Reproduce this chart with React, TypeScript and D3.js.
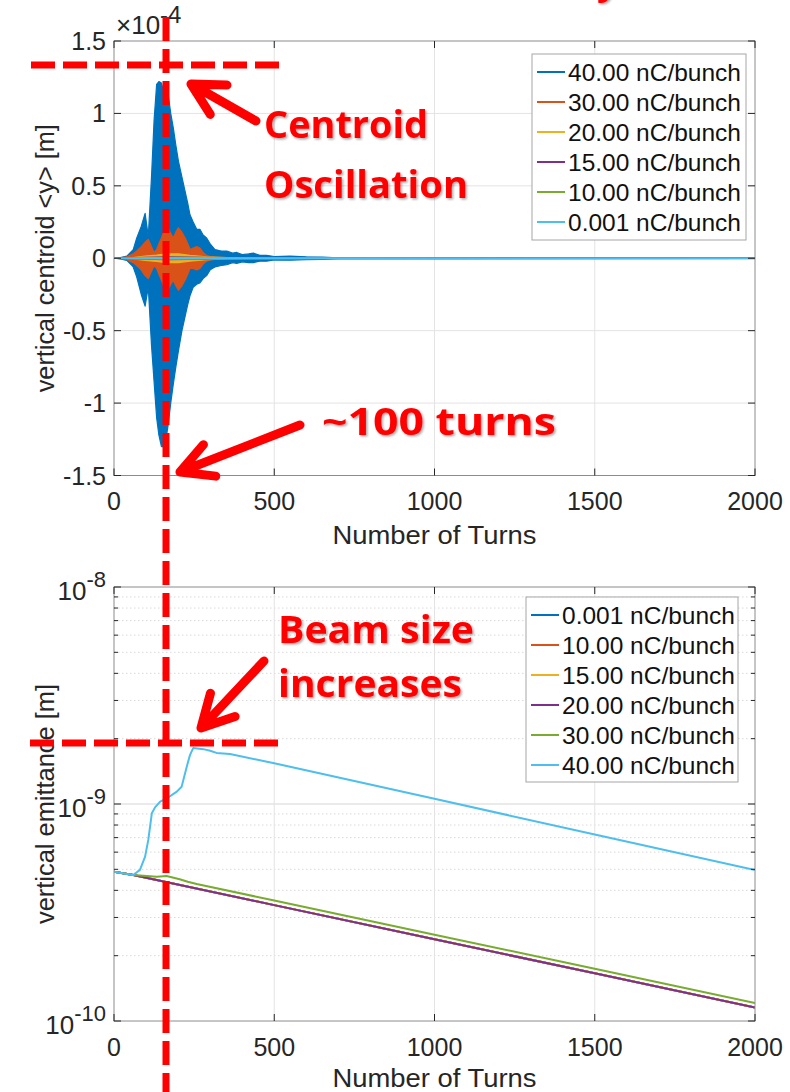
import React from 'react';
import * as d3 from 'd3';

const W = 790;
const H = 1092;

// ---------- axis ticks ----------
const turnTicks = [0, 500, 1000, 1500, 2000];
const centroidTicks = [-1.5, -1, -0.5, 0, 0.5, 1, 1.5];
const centroidTickLabels = ['-1.5', '-1', '-0.5', '0', '0.5', '1', '1.5'];
const emitDecades = [-10, -9, -8];

// ---------- top plot: centroid envelopes (units 1e-4 m) ----------
const centroidLegend = ['40.00 nC/bunch', '30.00 nC/bunch', '20.00 nC/bunch', '15.00 nC/bunch', '10.00 nC/bunch', '0.001 nC/bunch'];
const centroidColors = ['#0072BD', '#D95319', '#EDB120', '#7E2F8E', '#77AC30', '#4DBEEE'];

const envTurns = [0, 20, 40, 60, 71, 85, 97, 107, 117, 125, 133, 140, 148, 155, 162, 169, 177, 185, 193, 201, 212, 222, 230, 237, 247, 258, 268, 278, 289, 300, 315, 335, 352, 370, 383, 400, 420, 435, 455, 476, 500, 549, 600, 650, 700, 2000];
const env40Upper = [0, 0.005, 0.015, 0.06, 0.14, 0.22, 0.31, 0.15, 0.56, 0.95, 1.2, 1.22, 1.21, 1.15, 1.18, 1.13, 1.0, 0.9, 0.78, 0.67, 0.56, 0.46, 0.38, 0.3, 0.25, 0.2, 0.2, 0.16, 0.14, 0.1, 0.06, 0.05, 0.05, 0.035, 0.04, 0.025, 0.03, 0.035, 0.02, 0.02, 0.012, 0.015, 0.01, 0.008, 0.003, 0.002];
const env40Lower = [0, -0.005, -0.015, -0.06, -0.13, -0.25, -0.33, -0.2, -0.6, -0.85, -1.1, -1.22, -1.3, -1.3, -1.25, -1.15, -1.0, -0.87, -0.75, -0.64, -0.5, -0.4, -0.32, -0.26, -0.2, -0.18, -0.17, -0.14, -0.12, -0.08, -0.06, -0.05, -0.045, -0.03, -0.035, -0.025, -0.03, -0.03, -0.02, -0.02, -0.012, -0.013, -0.01, -0.008, -0.003, -0.002];
const env30Upper = [0, 0.002, 0.01, 0.03, 0.05, 0.08, 0.11, 0.13, 0.08, 0.04, 0.06, 0.1, 0.14, 0.18, 0.21, 0.21, 0.17, 0.14, 0.18, 0.21, 0.18, 0.14, 0.1, 0.06, 0.07, 0.08, 0.07, 0.04, 0.02, 0.012, 0.008, 0.006, 0.005, 0.004, 0.004, 0.003, 0.003, 0.003, 0.002, 0.002, 0.002, 0.002, 0.001, 0.001, 0.001, 0.001];
const env30Lower = [0, -0.002, -0.01, -0.03, -0.05, -0.08, -0.12, -0.14, -0.09, -0.05, -0.07, -0.11, -0.15, -0.19, -0.22, -0.22, -0.18, -0.15, -0.19, -0.22, -0.19, -0.15, -0.11, -0.07, -0.07, -0.08, -0.07, -0.04, -0.02, -0.012, -0.008, -0.006, -0.005, -0.004, -0.004, -0.003, -0.003, -0.003, -0.002, -0.002, -0.002, -0.002, -0.001, -0.001, -0.001, -0.001];
const env20Turns = [0, 60, 97, 133, 162, 201, 237, 289, 352, 500, 2000];
const env20Upper = [0, 0.005, 0.015, 0.022, 0.03, 0.03, 0.02, 0.01, 0.005, 0.002, 0.001];
const env20Lower = [0, -0.005, -0.015, -0.022, -0.03, -0.03, -0.02, -0.01, -0.005, -0.002, -0.001];
const envSmallTurns = [0, 97, 162, 237, 352, 2000];
const env15Upper = [0, 0.006, 0.01, 0.008, 0.003, 0.001];
const env15Lower = [0, -0.006, -0.01, -0.008, -0.003, -0.001];
const env10Upper = [0, 0.004, 0.007, 0.006, 0.002, 0.001];
const env10Lower = [0, -0.004, -0.007, -0.006, -0.002, -0.001];
const env001Upper = [0, 0.002, 0.003, 0.003, 0.002, 0.001];
const env001Lower = [0, -0.002, -0.003, -0.003, -0.002, -0.001];

// ---------- bottom plot: vertical emittance (m) ----------
const emitLegend = ['0.001 nC/bunch', '10.00 nC/bunch', '15.00 nC/bunch', '20.00 nC/bunch', '30.00 nC/bunch', '40.00 nC/bunch'];
const emitColors = ['#0072BD', '#D95319', '#EDB120', '#7E2F8E', '#77AC30', '#4DBEEE'];
const emitLowTurns = [0, 60, 500, 1000, 1500, 2000];
const emit001 = [4.88e-10, 4.71e-10, 3.42e-10, 2.38e-10, 1.66e-10, 1.153e-10];
const emit10 = [4.88e-10, 4.71e-10, 3.42e-10, 2.38e-10, 1.66e-10, 1.153e-10];
const emit15 = [4.88e-10, 4.71e-10, 3.42e-10, 2.38e-10, 1.66e-10, 1.153e-10];
const emit20 = [4.88e-10, 4.71e-10, 3.42e-10, 2.38e-10, 1.66e-10, 1.153e-10];
const emit30Turns = [0, 60, 133, 164, 180, 205, 230, 258, 500, 1000, 1500, 2000];
const emit30 = [4.88e-10, 4.71e-10, 4.62e-10, 4.66e-10, 4.6e-10, 4.5e-10, 4.38e-10, 4.28e-10, 3.59e-10, 2.5e-10, 1.74e-10, 1.21e-10];
const emit40Turns = [0, 40, 60, 81, 97, 107, 118, 128, 144, 164, 196, 211, 227, 237, 247, 279, 300, 320, 362, 500, 1000, 1500, 2000];
const emit40 = [4.88e-10, 4.76e-10, 4.71e-10, 4.97e-10, 5.72e-10, 6.83e-10, 9.06e-10, 9.65e-10, 1.025e-9, 1.06e-9, 1.14e-9, 1.2e-9, 1.486e-9, 1.68e-9, 1.81e-9, 1.79e-9, 1.76e-9, 1.72e-9, 1.7e-9, 1.54e-9, 1.057e-9, 7.23e-10, 4.96e-10];

// ---------- layout ----------
const PL = 114, PR = 755;
const T1 = 41, B1 = 475.5;
const T2 = 587, B2 = 1021;
const FONT = 'Liberation Sans, Arial, Helvetica, sans-serif';
const RED_FONT = '"Open Sans", "Noto Sans", sans-serif';
const AX = '#262626';
const BOX = '#8c8c8c';
const GRID = '#e3e3e3';

const xs = d3.scaleLinear().domain([0, 2000]).range([PL, PR]);
const y1 = d3.scaleLinear().domain([-1.5, 1.5]).range([B1, T1]);
const y2 = d3.scaleLog().domain([1e-10, 1e-8]).range([B2, T2]);

type Env = { t: number; hi: number; lo: number };
const zipEnv = (t: number[], hi: number[], lo: number[]): Env[] => t.map((v, i) => ({ t: v, hi: hi[i], lo: lo[i] }));

const topSeries = [
  zipEnv(envTurns, env40Upper, env40Lower),
  zipEnv(envTurns, env30Upper, env30Lower),
  zipEnv(env20Turns, env20Upper, env20Lower),
  zipEnv(envSmallTurns, env15Upper, env15Lower),
  zipEnv(envSmallTurns, env10Upper, env10Lower),
  zipEnv(envSmallTurns, env001Upper, env001Lower),
];

const bottomSeries: { t: number; v: number }[][] = [
  emitLowTurns.map((t, i) => ({ t, v: emit001[i] })),
  emitLowTurns.map((t, i) => ({ t, v: emit10[i] })),
  emitLowTurns.map((t, i) => ({ t, v: emit15[i] })),
  emitLowTurns.map((t, i) => ({ t, v: emit20[i] })),
  emit30Turns.map((t, i) => ({ t, v: emit30[i] })),
  emit40Turns.map((t, i) => ({ t, v: emit40[i] })),
];

const areaGen = d3.area<Env>().x((d) => xs(d.t)).y0((d) => y1(d.lo)).y1((d) => y1(d.hi));
const lineGen = d3.line<{ t: number; v: number }>().x((d) => xs(d.t)).y((d) => y2(d.v));

function arrow(tail: [number, number], tip: [number, number], len = 36, ang = (28 * Math.PI) / 180) {
  const a = Math.atan2(tail[1] - tip[1], tail[0] - tip[0]);
  const p1 = [tip[0] + len * Math.cos(a + ang), tip[1] + len * Math.sin(a + ang)];
  const p2 = [tip[0] + len * Math.cos(a - ang), tip[1] + len * Math.sin(a - ang)];
  return `M${tail[0]},${tail[1]}L${tip[0]},${tip[1]}M${p1[0]},${p1[1]}L${tip[0]},${tip[1]}L${p2[0]},${p2[1]}`;
}

function Legend({ x, y, w, h, labels, colors }: { x: number; y: number; w: number; h: number; labels: string[]; colors: string[] }) {
  return (
    <g>
      <rect x={x} y={y} width={w} height={h} fill="#fff" stroke="#a6a6a6" strokeWidth={1} />
      {labels.map((l, i) => {
        const cy = y + 18 + i * 30;
        return (
          <g key={l}>
            <line x1={x + 5} x2={x + 33} y1={cy} y2={cy} stroke={colors[i]} strokeWidth={2} />
            <text x={x + 36} y={cy + 8.5} fontSize={24} fontFamily={FONT} fill="#111" textLength={173} lengthAdjust="spacingAndGlyphs">{l}</text>
          </g>
        );
      })}
    </g>
  );
}

function XAxis({ top, bottom, labelY }: { top: number; bottom: number; labelY: number }) {
  return (
    <g>
      {turnTicks.map((t) => (
        <g key={t}>
          <line x1={xs(t)} x2={xs(t)} y1={bottom} y2={bottom - 7} stroke={AX} strokeWidth={1} />
          <line x1={xs(t)} x2={xs(t)} y1={top} y2={top + 7} stroke={AX} strokeWidth={1} />
          <text x={xs(t)} y={bottom + 34.5} fontSize={25} fontFamily={FONT} fill={AX} textAnchor="middle">{t}</text>
        </g>
      ))}
      <text x={(PL + PR) / 2} y={labelY} fontSize={25} fontFamily={FONT} fill={AX} textAnchor="middle" textLength={204} lengthAdjust="spacingAndGlyphs">Number of Turns</text>
    </g>
  );
}

export default function App() {
  const minorVals: number[] = [];
  [-10, -9].forEach((e) => {
    for (let k = 2; k <= 9; k++) minorVals.push(k * Math.pow(10, e));
  });
  return (
    <svg width={W} height={H} viewBox={`0 0 ${W} ${H}`} style={{ position: 'absolute', left: 0, top: 0, background: '#fff' }}>
      <defs>
        <clipPath id="clip1"><rect x={PL} y={T1} width={PR - PL} height={B1 - T1} /></clipPath>
        <clipPath id="clip2"><rect x={PL} y={T2} width={PR - PL} height={B2 - T2} /></clipPath>
        <filter id="shadow" x="-10%" y="-10%" width="130%" height="140%">
          <feDropShadow dx="1.5" dy="1.5" stdDeviation="1" floodColor="#000" floodOpacity="0.35" />
        </filter>
      </defs>
      <rect x={0} y={0} width={W} height={H} fill="#fff" />

      {/* ===== TOP PLOT ===== */}
      <g>
        {turnTicks.slice(1, -1).map((t) => (
          <line key={t} x1={xs(t)} x2={xs(t)} y1={T1} y2={B1} stroke={GRID} strokeWidth={1} />
        ))}
        {centroidTicks.slice(1, -1).map((v) => (
          <line key={v} x1={PL} x2={PR} y1={y1(v)} y2={y1(v)} stroke={GRID} strokeWidth={1} />
        ))}
        <g clipPath="url(#clip1)">
          {topSeries.map((s, i) => (
            <path key={i} d={areaGen(s) || ''} fill={centroidColors[i]} stroke={centroidColors[i]} strokeWidth={1.2} strokeLinejoin="round" />
          ))}
        </g>
        <rect x={PL} y={T1} width={PR - PL} height={B1 - T1} fill="none" stroke={BOX} strokeWidth={1} />
        {centroidTicks.map((v, i) => (
          <g key={v}>
            <line x1={PL} x2={PL + 7} y1={y1(v)} y2={y1(v)} stroke={AX} strokeWidth={1} />
            <line x1={PR} x2={PR - 7} y1={y1(v)} y2={y1(v)} stroke={AX} strokeWidth={1} />
            <text x={106} y={y1(v) + 9} fontSize={25} fontFamily={FONT} fill={AX} textAnchor="end">{centroidTickLabels[i]}</text>
          </g>
        ))}
        <XAxis top={T1} bottom={B1} labelY={544} />
        <text x={116} y={34} fontSize={26} fontFamily={FONT} fill={AX}>
          ×10<tspan fontSize={24} dy={-11}>-4</tspan>
        </text>
        <text transform={`translate(54,${(T1 + B1) / 2}) rotate(-90)`} fontSize={25} fontFamily={FONT} fill={AX} textAnchor="middle" textLength={268} lengthAdjust="spacingAndGlyphs">
          vertical centroid &lt;y&gt; [m]
        </text>
        <Legend x={532} y={54} w={214} h={186} labels={centroidLegend} colors={centroidColors} />
      </g>

      {/* ===== BOTTOM PLOT ===== */}
      <g>
        {minorVals.map((v) => (
          <line key={v} x1={PL} x2={PR} y1={y2(v)} y2={y2(v)} stroke="#d9d9d9" strokeWidth={1} strokeDasharray="1.5 2.5" />
        ))}
        {turnTicks.slice(1, -1).map((t) => (
          <line key={t} x1={xs(t)} x2={xs(t)} y1={T2} y2={B2} stroke={GRID} strokeWidth={1} />
        ))}
        <line x1={PL} x2={PR} y1={y2(1e-9)} y2={y2(1e-9)} stroke={GRID} strokeWidth={1.5} />
        <g clipPath="url(#clip2)">
          {bottomSeries.map((s, i) => (
            <path key={i} d={lineGen(s) || ''} fill="none" stroke={emitColors[i]} strokeWidth={2} strokeLinejoin="round" />
          ))}
        </g>
        <rect x={PL} y={T2} width={PR - PL} height={B2 - T2} fill="none" stroke={BOX} strokeWidth={1} />
        {minorVals.map((v) => (
          <g key={'m' + v}>
            <line x1={PL} x2={PL + 4} y1={y2(v)} y2={y2(v)} stroke={AX} strokeWidth={1} />
            <line x1={PR} x2={PR - 4} y1={y2(v)} y2={y2(v)} stroke={AX} strokeWidth={1} />
          </g>
        ))}
        {emitDecades.map((e) => {
          const yy = y2(Math.pow(10, e));
          return (
            <g key={e}>
              <line x1={PL} x2={PL + 7} y1={yy} y2={yy} stroke={AX} strokeWidth={1} />
              <line x1={PR} x2={PR - 7} y1={yy} y2={yy} stroke={AX} strokeWidth={1} />
              <text x={106} y={yy + 13} fontSize={26} fontFamily={FONT} fill={AX} textAnchor="end">
                10<tspan fontSize={22} dy={-13}>{String(e)}</tspan>
              </text>
            </g>
          );
        })}
        <XAxis top={T2} bottom={B2} labelY={1087} />
        <text transform={`translate(54,${(T2 + B2) / 2}) rotate(-90)`} fontSize={25} fontFamily={FONT} fill={AX} textAnchor="middle" textLength={240} lengthAdjust="spacingAndGlyphs">
          vertical emittance [m]
        </text>
        <Legend x={526} y={597} w={212} h={185} labels={emitLegend} colors={emitColors} />
      </g>

      {/* ===== ANNOTATIONS ===== */}
      <g stroke="#FF0000" strokeWidth={7} strokeDasharray="24 8" fill="none">
        <line x1={31} x2={279} y1={65} y2={65} />
        <line x1={30} x2={279} y1={743} y2={743} />
        <line x1={166} x2={166} y1={17} y2={1092} />
      </g>
      <g stroke="#FF0000" strokeWidth={9} strokeLinecap="round" strokeLinejoin="round" fill="none">
        <path d={arrow([256, 121], [191, 84])} />
        <path d={arrow([300, 425], [180, 472])} />
        <path d={arrow([264, 661], [201, 728])} />
      </g>
      <g fill="#FF0000" fontFamily={RED_FONT} fontWeight={700} fontSize={38} filter="url(#shadow)">
        <text x={264} y={138} textLength={164} lengthAdjust="spacingAndGlyphs">Centroid</text>
        <text x={264} y={198} textLength={204} lengthAdjust="spacingAndGlyphs">Oscillation</text>
        <text x={322} y={435} textLength={234} lengthAdjust="spacingAndGlyphs">~100 turns</text>
        <text x={278} y={643} textLength={196} lengthAdjust="spacingAndGlyphs">Beam size</text>
        <text x={278} y={697} textLength={184} lengthAdjust="spacingAndGlyphs">increases</text>
        <text x={597} y={-6}>y</text>
      </g>
    </svg>
  );
}
